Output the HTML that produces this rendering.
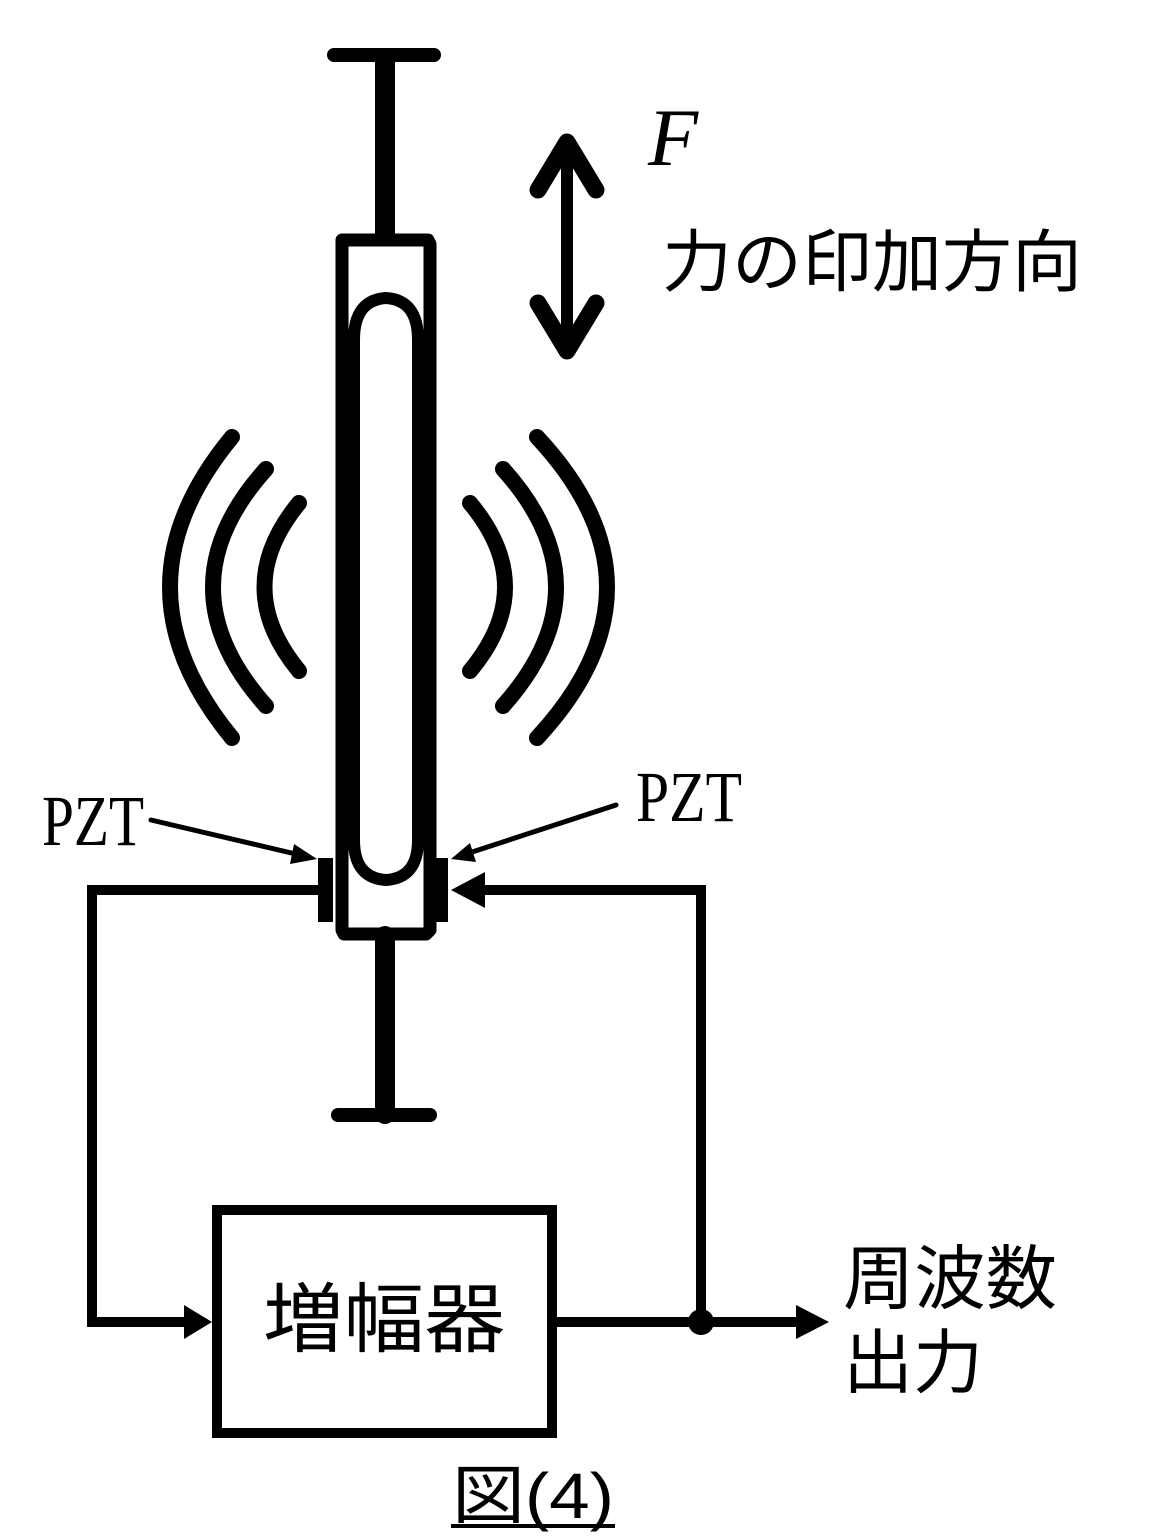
<!DOCTYPE html>
<html><head><meta charset="utf-8"><style>
html,body{margin:0;padding:0;background:#fff;}
svg{display:block;}
.jp{font-family:"Liberation Sans","Noto Sans CJK JP",sans-serif;}
</style></head><body>
<svg width="1152" height="1536" viewBox="0 0 1152 1536" xmlns="http://www.w3.org/2000/svg">
<g fill="none" stroke="#000" stroke-linecap="round" stroke-linejoin="round">
  <line x1="334" y1="55" x2="434" y2="55" stroke-width="14"/>
  <line x1="385" y1="58" x2="385" y2="236" stroke-width="20"/>
  <path d="M342 240 L428 240 L430 244 L430 930 L426 934 L344 934 L342 930 Z" stroke-width="13"/>
  <path d="M354 340 Q354 300 386 298 Q418 300 418 340 L418 840 Q418 878 386 880 Q354 878 354 840 Z" stroke-width="12"/>
  <line x1="385" y1="936" x2="385" y2="1114" stroke-width="20"/>
  <line x1="338" y1="1115" x2="430" y2="1115" stroke-width="14"/>
  <path d="M232 437 Q108 587 232 738" stroke-width="16"/>
  <path d="M266 469 Q160 587 266 706" stroke-width="16"/>
  <path d="M299 503 Q230 587 299 671" stroke-width="16"/>
  <path d="M537 437 Q677 587 537 738" stroke-width="16"/>
  <path d="M503 469 Q609 587 503 706" stroke-width="16"/>
  <path d="M470 503 Q540 587 470 671" stroke-width="16"/>
  <line x1="567" y1="150" x2="567" y2="345" stroke-width="12"/>
  <polyline points="538,190 567,142 596,190" stroke-width="17"/>
  <polyline points="538,303 567,351 596,303" stroke-width="17"/>
  <polyline points="318,890 92,890 92,1322 190,1322" stroke-width="10" stroke-linecap="butt" stroke-linejoin="miter"/>
  <polyline points="478,890 701,890 701,1322" stroke-width="10" stroke-linecap="butt" stroke-linejoin="miter"/>
  <line x1="556" y1="1322" x2="800" y2="1322" stroke-width="10" stroke-linecap="butt"/>
  <line x1="151" y1="820" x2="300" y2="855" stroke-width="5"/>
  <line x1="616" y1="805" x2="466" y2="854" stroke-width="5"/>
  <rect x="217" y="1210" width="335" height="223" stroke-width="10" stroke-linejoin="miter"/>
</g>
<g fill="#000">
  <rect x="318" y="858" width="15" height="64"/>
  <rect x="435" y="858" width="13" height="64"/>
  <polygon points="212,1322 184,1305 184,1339"/>
  <polygon points="451,890 485,872 485,908"/>
  <polygon points="829,1322 796,1305 796,1339"/>
  <polygon points="317,859 294,844 290,864"/>
  <polygon points="451,859 470,843 476,862"/>
  <circle cx="701" cy="1322" r="13"/>
</g>
<text x="648" y="165" font-family="Liberation Serif,serif" font-style="italic" font-size="82">F</text>
<text x="662" y="286" class="jp" font-size="68" textLength="420" lengthAdjust="spacingAndGlyphs">力の印加方向</text>
<text x="42" y="845" font-family="Liberation Serif,serif" font-size="72" textLength="102" lengthAdjust="spacingAndGlyphs">PZT</text>
<text x="636" y="821" font-family="Liberation Serif,serif" font-size="72" textLength="106" lengthAdjust="spacingAndGlyphs">PZT</text>
<text x="263" y="1346" class="jp" font-size="76" textLength="242" lengthAdjust="spacingAndGlyphs">増幅器</text>
<text x="843" y="1303" class="jp" font-size="70" textLength="214" lengthAdjust="spacingAndGlyphs">周波数</text>
<text x="843" y="1387" class="jp" font-size="70" textLength="140" lengthAdjust="spacingAndGlyphs">出力</text>
<text x="452" y="1518" class="jp" font-size="64" textLength="162" lengthAdjust="spacingAndGlyphs">図(4)</text>
<rect x="451" y="1524" width="164" height="4" fill="#000"/>
</svg>
</body></html>
